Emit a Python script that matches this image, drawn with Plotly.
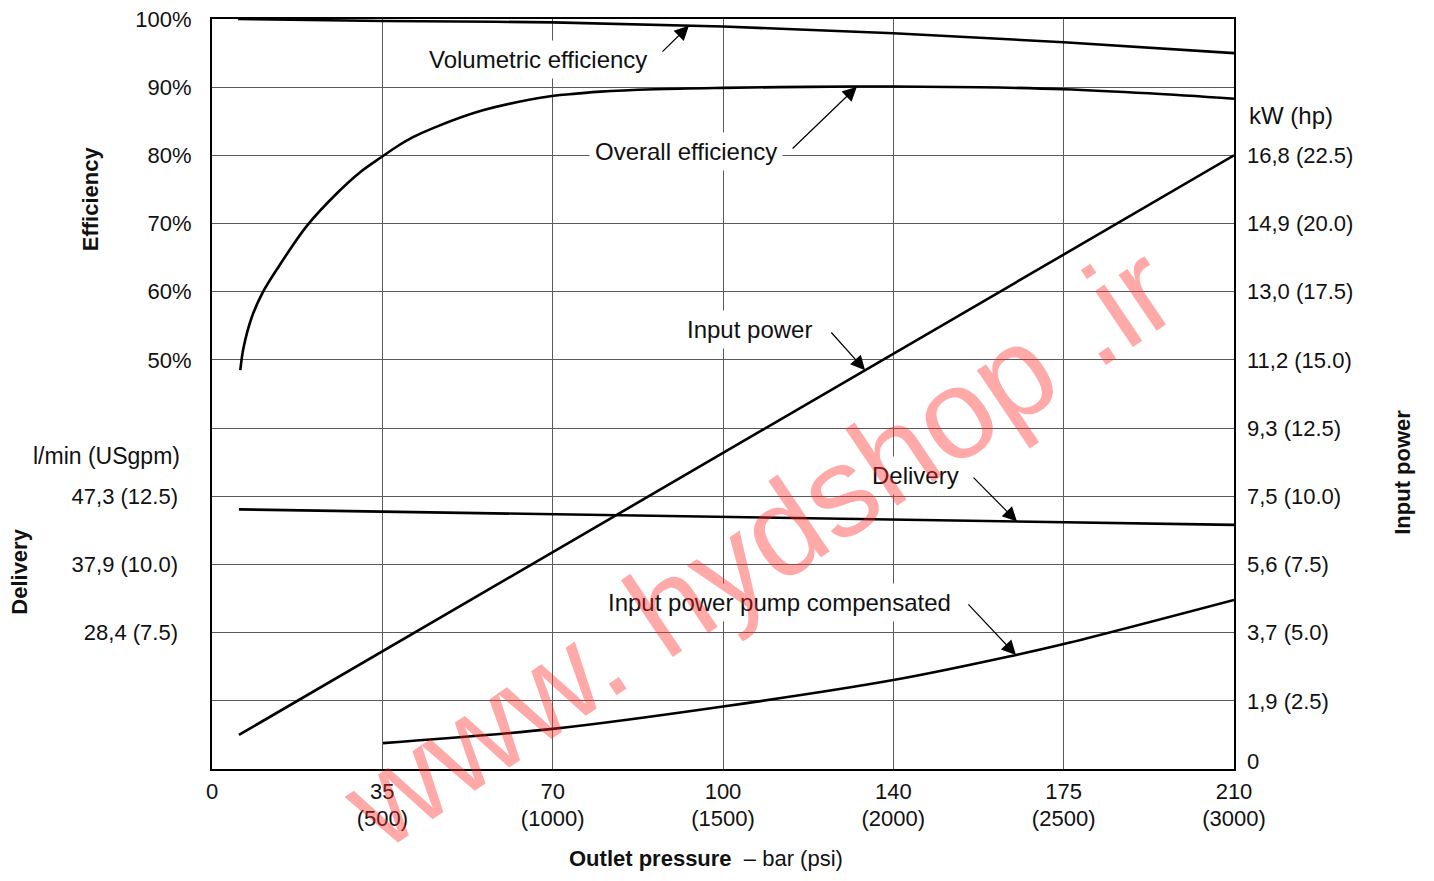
import numpy as np
import plotly.graph_objects as go

# ---------------- data ----------------
# x axis: outlet pressure in psi (bar labels shown alongside)
x_ticks_psi = [0, 500, 1000, 1500, 2000, 2500, 3000]
x_ticks_bar = ["0", "35", "70", "100", "140", "175", "210"]

vol_psi = [76, 500, 1000, 1500, 2000, 2500, 3000]
vol_eff = [100.0, 99.7, 99.5, 98.9, 97.9, 96.6, 95.0]

ovr_psi = [83, 93, 117, 149, 196, 279, 372, 434, 499, 543, 587, 649, 795, 998, 1070, 1140,
           1300, 1500, 1750, 2000, 2250, 2500, 2750, 3000]
ovr_eff = [48.5, 51.9, 56.3, 59.9, 63.7, 69.7, 74.7, 77.5, 79.8, 81.3, 82.6, 84.0, 86.6, 88.7,
           89.05, 89.35, 89.7, 89.9, 90.05, 90.1, 90.0, 89.7, 89.1, 88.3]

pwr_psi = [79, 3000]
pwr_hp = [1.25, 22.5]

del_psi = [79, 3000]
del_gpm = [12.02, 11.45]

cmp_psi = [502, 1000, 1500, 2000, 2360, 2500, 3000]
cmp_hp = [0.95, 1.47, 2.29, 3.26, 4.18, 4.58, 6.20]

eff_ticks = [50, 60, 70, 80, 90, 100]
del_ticks_gpm = [7.5, 10.0, 12.5]
del_ticks_lmin = ["28,4", "37,9", "47,3"]
pwr_ticks_hp = [0.3, 2.5, 5.0, 7.5, 10.0, 12.5, 15.0, 17.5, 20.0, 22.5]
pwr_ticks_kw = ["0", "1,9", "3,7", "5,6", "7,5", "9,3", "11,2", "13,0", "14,9", "16,8"]

TICKFONT = dict(family="Liberation Sans", size=22, color="#111")
ANNFONT = dict(family="Liberation Sans", size=24, color="#111")
GRID = "#5a5a5a"

fig = go.Figure()
line = dict(color="black", width=2.6)
fig.add_trace(go.Scatter(x=vol_psi, y=vol_eff, mode="lines", line=dict(**line, shape="spline"), yaxis="y"))
fig.add_trace(go.Scatter(x=ovr_psi, y=ovr_eff, mode="lines", line=dict(**line, shape="spline", smoothing=1.0), yaxis="y"))
fig.add_trace(go.Scatter(x=pwr_psi, y=pwr_hp, mode="lines", line=line, yaxis="y3"))
fig.add_trace(go.Scatter(x=del_psi, y=del_gpm, mode="lines", line=line, yaxis="y2"))
fig.add_trace(go.Scatter(x=cmp_psi, y=cmp_hp, mode="lines", line=dict(**line, shape="spline", smoothing=1.0), yaxis="y3"))
# invisible trace to activate the second x axis (psi labels)
fig.add_trace(go.Scatter(x=[0, 3000], y=[None, None], mode="lines", xaxis="x2", yaxis="y",
                         hoverinfo="skip", showlegend=False))

# efficiency axis gridlines every 10 %, labels only 50..100
eff_grid = list(range(-10, 101, 10))
eff_text = [f"{v}%" if v in eff_ticks else "" for v in eff_grid]

fig.update_layout(
    width=1418, height=865,
    margin=dict(l=204, r=192, t=11, b=104, autoexpand=False),
    paper_bgcolor="white", plot_bgcolor="white",
    showlegend=False,
    xaxis=dict(range=[0, 3000], tickvals=x_ticks_psi, ticktext=x_ticks_bar,
               tickfont=TICKFONT, showgrid=True, gridcolor=GRID, gridwidth=1,
               showline=True, linecolor="black", linewidth=2, mirror=True, ticks="",
               zeroline=False, ticklabelstandoff=2, automargin=False, ticklabeloverflow="allow"),
    xaxis2=dict(range=[0, 3000], overlaying="x", side="bottom", anchor="y",
                tickvals=x_ticks_psi[1:], ticktext=[f"({p})" for p in x_ticks_psi[1:]],
                tickfont=TICKFONT, showgrid=False, zeroline=False, showline=False, ticks="",
                ticklabelstandoff=34, automargin=False, ticklabeloverflow="allow"),
    yaxis=dict(range=[-10, 100], tickvals=eff_grid, ticktext=eff_text, tickfont=TICKFONT,
               showgrid=True, gridcolor=GRID, gridwidth=1, showline=True, linecolor="black",
               linewidth=2, mirror=True, ticks="", zeroline=False, ticklabelstandoff=14,
               automargin=False, ticklabeloverflow="allow"),
    yaxis2=dict(range=[2.5, 30], overlaying="y", side="left", tickvals=del_ticks_gpm,
                ticktext=[f"{l} ({g:.1f})" for l, g in zip(del_ticks_lmin, del_ticks_gpm)],
                tickfont=TICKFONT, showgrid=False, zeroline=False, showline=False, ticks="",
                ticklabelstandoff=33, automargin=False, ticklabeloverflow="allow"),
    yaxis3=dict(range=[0, 27.5], overlaying="y", side="right", tickvals=pwr_ticks_hp,
                ticktext=[k if h < 1 else f"{k} ({h:.1f})" for k, h in zip(pwr_ticks_kw, pwr_ticks_hp)],
                tickfont=TICKFONT, showgrid=False, zeroline=False, showline=False, ticks="",
                ticklabelstandoff=12, automargin=False, ticklabeloverflow="allow"),
)

ann = []
# curve labels (white background breaks the grid)
labels = [
    ("Volumetric efficiency", 958, 94.1),
    ("Overall efficiency", 1391, 80.5),
    ("Input power", 1579, 54.4),
    ("Delivery", 2064, 33.0),
    ("Input power pump compensated", 1667, 14.35),
]
for t, x, y in labels:
    ann.append(dict(text=t, x=x, y=y, xref="x", yref="y", showarrow=False, font=ANNFONT,
                    bgcolor="white", borderpad=5, xanchor="center", yanchor="middle"))

# arrows: tip on the curve
def arrow(hx, hy, tx, ty, yref):
    return dict(text="", x=hx, y=hy, ax=tx, ay=ty, xref="x", yref=yref, axref="x", ayref=yref,
                showarrow=True, arrowhead=2, arrowsize=2.4, arrowwidth=1.2, arrowcolor="black",
                standoff=0)

ann.append(arrow(1400, float(np.interp(1400, vol_psi, vol_eff)), 1318, 95.0, "y"))
ann.append(arrow(1893, float(np.interp(1893, ovr_psi, ovr_eff)), 1700, 80.8, "y"))
ann.append(arrow(1917, float(np.interp(1917, pwr_psi, pwr_hp)), 1814, 16.06, "y3"))
ann.append(arrow(2363, float(np.interp(2363, del_psi, del_gpm)), 2231, 13.24, "y2"))
ann.append(arrow(2360, float(np.interp(2360, cmp_psi, cmp_hp)), 2216, 6.09, "y3"))

# axis titles and unit labels
BOLD = dict(family="Liberation Sans", size=22, color="#111")
ann += [
    dict(text="<b>Efficiency</b>", xref="paper", yref="paper", x=-0.1194, y=0.761, textangle=-90,
         showarrow=False, font=BOLD, xanchor="center", yanchor="middle"),
    dict(text="<b>Delivery</b>", xref="paper", yref="paper", x=-0.1879, y=0.263, textangle=-90,
         showarrow=False, font=BOLD, xanchor="center", yanchor="middle"),
    dict(text="<b>Input power</b>", xref="paper", yref="paper", x=1.1654, y=0.395, textangle=-90,
         showarrow=False, font=BOLD, xanchor="center", yanchor="middle"),
    dict(text="<b>Outlet pressure</b>  – bar (psi)", xref="paper", yref="paper", x=0.483, y=-0.119,
         showarrow=False, font=dict(family="Liberation Sans", size=22, color="#111"),
         xanchor="center", yanchor="middle"),
    dict(text="l/min (USgpm)", xref="paper", yref="paper", x=-0.0294, y=0.417, showarrow=False,
         font=dict(ANNFONT, size=23), xanchor="right", yanchor="middle"),
    dict(text="kW (hp)", xref="paper", yref="paper", x=1.0127, y=0.871, showarrow=False,
         font=ANNFONT, xanchor="left", yanchor="middle"),
]

# watermark
ann.append(dict(text="www. hydshop .ir", xref="paper", yref="paper", x=0.535, y=0.298,
                textangle=-34, showarrow=False,
                font=dict(family="Liberation Sans", size=128, color="rgba(255,40,40,0.4)"),
                xanchor="center", yanchor="middle"))

fig.update_layout(annotations=ann)
fig.write_html("out.html")
